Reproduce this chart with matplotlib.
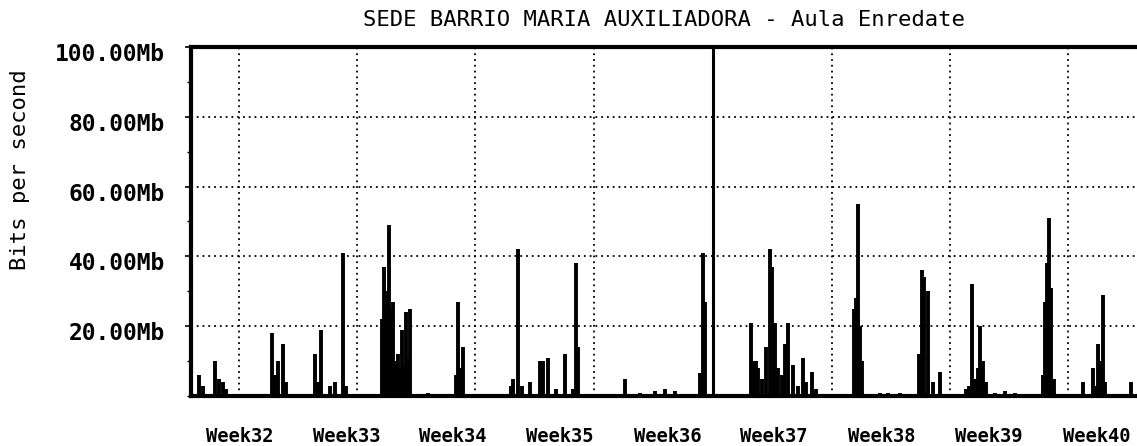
import matplotlib
matplotlib.use("Agg")
import matplotlib.pyplot as plt
from matplotlib.ticker import MultipleLocator
from matplotlib.transforms import ScaledTranslation

# ---------------------------------------------------------------
# data (x in days from left edge of the graph, y in Mbit/s)
# ---------------------------------------------------------------
title = "SEDE BARRIO MARIA AUXILIADORA - Aula Enredate"
y_label = "Bits per second"

week_labels = ["Week32", "Week33", "Week34", "Week35", "Week36",
               "Week37", "Week38", "Week39", "Week40"]
week_label_days = [2.9, 9.2, 15.5, 21.8, 28.2, 34.5, 40.9, 47.2, 53.6]

y_ticks = [20, 40, 60, 80, 100]
y_tick_labels = ["20.00Mb", "40.00Mb", "60.00Mb", "80.00Mb", "100.00Mb"]

grid_days = [2.84, 9.83, 16.82, 23.86, 37.95, 44.94, 51.93]
boundary_day = 30.9

spike_day = [
    0.47, 0.71, 1.42, 1.66, 1.89, 2.07,
    4.80, 4.97, 5.15, 5.45, 5.62,
    7.34, 7.52, 7.70, 8.23, 8.53, 9.00, 9.18,
    11.31, 11.43, 11.55, 11.72, 11.84, 11.96, 12.08, 12.26, 12.37,
    12.49, 12.61, 12.73, 12.85, 12.97,
    14.03, 15.69, 15.81, 15.99, 16.10,
    18.95, 19.06, 19.36, 19.60, 20.07, 20.66, 20.84, 21.14, 21.61,
    22.14, 22.61, 22.79, 22.91,
    25.70, 26.58, 27.47, 28.06, 28.66, 30.14, 30.32, 30.43,
    33.16, 33.28, 33.45, 33.57, 33.81, 34.04, 34.28, 34.40, 34.58,
    34.76, 34.99, 35.17, 35.35, 35.64, 35.94, 36.23, 36.41, 36.77, 37.00,
    39.25, 39.37, 39.49, 39.61, 39.73, 40.79, 41.27, 41.98,
    43.10, 43.28, 43.40, 43.64, 43.93, 44.35,
    45.89, 46.06, 46.24, 46.42, 46.60, 46.71, 46.89, 47.07,
    47.60, 48.19, 48.79,
    50.44, 50.56, 50.68, 50.80, 50.92, 51.09,
    52.81, 53.40, 53.58, 53.70, 53.88, 54.00, 54.12, 55.66,
]
spike_mb = [
    6, 3, 10, 5, 4, 2,
    18, 6, 10, 15, 4,
    12, 4, 19, 3, 4, 41, 3,
    22, 37, 30, 49, 25, 27, 10, 12, 8,
    19, 9, 24, 11, 25,
    1, 6, 27, 8, 14,
    3, 5, 42, 3, 4, 10, 10, 11, 2,
    12, 2, 38, 14,
    5, 1, 1.5, 2, 1.5, 6.5, 41, 27,
    21, 10, 10, 8, 5, 14, 42, 37, 21,
    8, 6, 15, 21, 9, 3, 11, 4, 7, 2,
    25, 28, 55, 20, 10, 1, 1, 1,
    12, 36, 34, 30, 4, 7,
    2, 3, 32, 5, 8, 20, 10, 4,
    1, 1.5, 1,
    6, 27, 38, 51, 31, 5,
    4, 8, 3, 15, 10, 29, 4, 4,
]

# ---------------------------------------------------------------
# figure
# ---------------------------------------------------------------
plt.rcParams["font.family"] = ["DejaVu Sans Mono"]

fig = plt.figure(figsize=(11.37, 4.46), dpi=100)
ax = fig.add_axes([0.168, 0.112, 0.832, 0.783])

ax.vlines(spike_day, 0, spike_mb, color="black", linewidth=2.8)

# grid
for v in y_ticks[:-1]:
    ax.axhline(v, color="black", linestyle=(0, (1, 2.2)), linewidth=1.3, zorder=0)
for d in grid_days:
    ax.axvline(d, color="black", linestyle=(0, (1, 2.2)), linewidth=1.3, zorder=0)
ax.axvline(boundary_day, color="black", linewidth=2.2)

ax.set_xlim(0, 56)
ax.set_ylim(0, 100)

ax.set_yticks(y_ticks)
ax.set_yticklabels(y_tick_labels, fontsize=16.5, fontweight="bold")
ax.yaxis.set_minor_locator(MultipleLocator(10))
ax.tick_params(axis="y", which="major", length=4, width=1.2, pad=15)
ax.tick_params(axis="y", which="minor", length=3, width=1)

# labels sit a little below their gridline in the original
shift = ScaledTranslation(0, -0.05, fig.dpi_scale_trans)
for lbl in ax.get_yticklabels():
    lbl.set_transform(lbl.get_transform() + shift)

ax.set_xticks(week_label_days)
ax.set_xticklabels(week_labels, fontsize=13.5, fontweight="bold")
ax.tick_params(axis="x", length=0, pad=22)

for side in ["left", "bottom", "top"]:
    ax.spines[side].set_linewidth(3)
ax.spines["right"].set_visible(False)

ax.set_title(title, fontsize=16, pad=15)
fig.text(0.018, 0.62, y_label, rotation=90, fontsize=16,
         ha="center", va="center")

plt.savefig("out.png", dpi=100)
